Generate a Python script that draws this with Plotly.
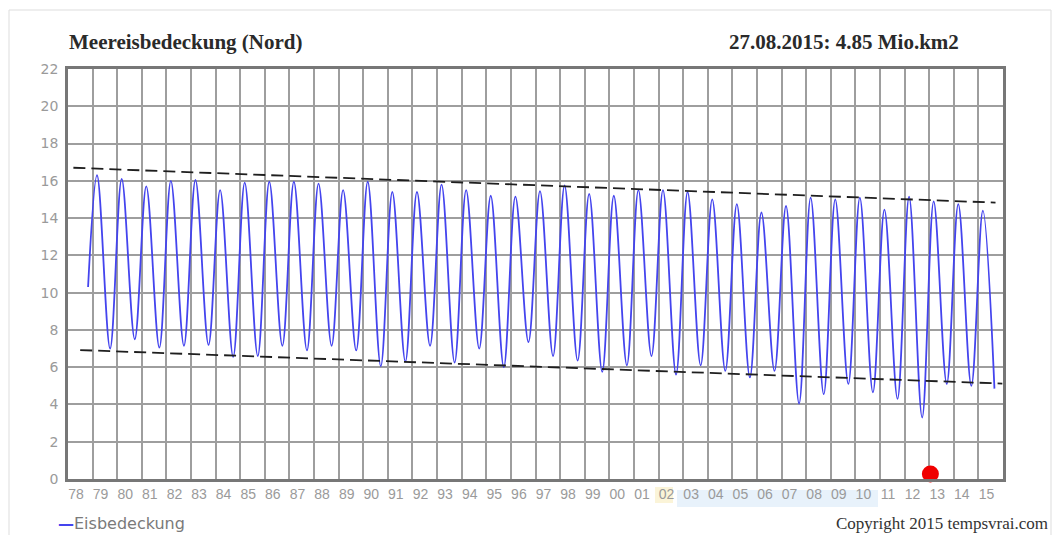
import plotly.graph_objects as go

# ---- data ----
start_date = "1978-10-26"
start_value = 10.3
end_date = "2015-08-27"
end_value = 4.85

max_years = list(range(1979, 2016))
max_values = [16.3, 16.1, 15.7, 16.0, 16.05, 15.5, 15.9, 15.95, 15.95, 15.85,
              15.5, 15.95, 15.4, 15.4, 15.8, 15.5, 15.2, 15.15, 15.45, 15.75,
              15.3, 15.2, 15.5, 15.5, 15.4, 15.0, 14.75, 14.3, 14.65, 15.1,
              15.0, 15.1, 14.45, 15.15, 14.9, 14.75, 14.4]
max_day = "03-08"

min_years = list(range(1979, 2015))
min_values = [7.0, 7.5, 7.05, 7.15, 7.2, 6.55, 6.6, 7.15, 6.9, 7.15,
              6.9, 6.05, 6.3, 7.15, 6.25, 7.0, 6.0, 7.35, 6.6, 6.35,
              5.75, 6.1, 6.6, 5.6, 6.1, 5.8, 5.45, 5.8, 4.05, 4.55,
              5.1, 4.65, 4.3, 3.3, 5.1, 5.0]
min_day = "09-18"

upper_trend_x = ["1978-03-22", "2015-09-12"]
upper_trend_y = [16.7, 14.83]
lower_trend_x = ["1978-07-01", "2015-12-22"]
lower_trend_y = [6.92, 5.12]

marker_x = ["2013-01-18"]
marker_y = [0.27]

tick_years = list(range(1978, 2016))
tick_labels = ["78", "79", "80", "81", "82", "83", "84", "85", "86", "87",
               "88", "89", "90", "91", "92", "93", "94", "95", "96", "97",
               "98", "99", "00", "01", "02", "03", "04", "05", "06", "07",
               "08", "09", "10", "11", "12", "13", "14", "15"]
y_ticks = [0, 2, 4, 6, 8, 10, 12, 14, 16, 18, 20, 22]

# ---- build series ----
maxima = {y: v for y, v in zip(max_years, max_values)}
minima = {y: v for y, v in zip(min_years, min_values)}
xs, ys = [start_date], [start_value]
for y in max_years:
    xs.append(f"{y}-{max_day}")
    ys.append(maxima[y])
    if y in minima:
        xs.append(f"{y}-{min_day}")
        ys.append(minima[y])
xs.append(end_date)
ys.append(end_value)

fig = go.Figure()
fig.add_trace(go.Scatter(x=xs, y=ys, mode="lines", line_shape="spline",
                         line=dict(color="#4444ee", width=1.8),
                         name="Eisbedeckung", showlegend=False))
fig.add_trace(go.Scatter(x=upper_trend_x, y=upper_trend_y, mode="lines",
                         line=dict(color="#1e1e1e", width=1.8, dash="12px,6px"),
                         showlegend=False))
fig.add_trace(go.Scatter(x=lower_trend_x, y=lower_trend_y, mode="lines",
                         line=dict(color="#1e1e1e", width=1.8, dash="12px,6px"),
                         showlegend=False))
fig.add_trace(go.Scatter(x=marker_x, y=marker_y, mode="markers",
                         marker=dict(color="#f00000", size=17), cliponaxis=False,
                         showlegend=False))

L, T, R, B = 68, 69, 1003, 479
W, H = 1053, 535
pw, ph = R - L, B - T


def px_x(p):
    return (p - L) / pw


def px_y(p):
    return (B - p) / ph


fig.update_layout(
    width=W, height=H,
    margin=dict(l=L, r=W - R, t=T, b=H - B),
    paper_bgcolor="white", plot_bgcolor="white",
    xaxis=dict(type="date", range=["1978-01-01", "2016-01-01"],
               tickmode="array",
               tickvals=[f"{y}-01-01" for y in tick_years],
               ticktext=tick_labels, ticks="", ticklabelshift=8,
               showgrid=True, gridcolor="#9e9e9e", gridwidth=1.8,
               showline=True, linecolor="#777777", linewidth=2.5, mirror=True,
               zeroline=False,
               tickfont=dict(family="Liberation Sans, Arial", size=14, color="#9a9a9a")),
    yaxis=dict(range=[0, 22], tickvals=y_ticks, ticks="",
               showgrid=True, gridcolor="#9e9e9e", gridwidth=1.8,
               showline=True, linecolor="#777777", linewidth=2.5, mirror=True,
               zeroline=False, ticklabelstandoff=4,
               tickfont=dict(family="DejaVu Sans", size=14, color="#9a9a9a")),
    showlegend=False,
    shapes=[
        dict(type="rect", xref="paper", yref="paper",
             x0=px_x(9), x1=px_x(1051), y0=px_y(545), y1=px_y(10),
             line=dict(color="#dddddd", width=1), layer="below"),
        dict(type="rect", xref="paper", yref="paper",
             x0=px_x(677), x1=px_x(878), y0=px_y(507), y1=px_y(490),
             fillcolor="rgba(222,236,250,0.7)", line=dict(width=0), layer="below"),
        dict(type="rect", xref="paper", yref="paper",
             x0=px_x(655), x1=px_x(673), y0=px_y(503), y1=px_y(487),
             fillcolor="rgba(250,240,200,0.7)", line=dict(width=0), layer="below"),
    ],
    annotations=[
        dict(text="<b>Meereisbedeckung (Nord)</b>", xref="paper", yref="paper",
             x=px_x(67), y=px_y(42), xanchor="left", yanchor="middle", showarrow=False,
             font=dict(family="Liberation Serif, Times New Roman", size=21, color="#2a2a2a")),
        dict(text="<b>27.08.2015: 4.85 Mio.km2</b>", xref="paper", yref="paper",
             x=px_x(961), y=px_y(42), xanchor="right", yanchor="middle", showarrow=False,
             font=dict(family="Liberation Serif, Times New Roman", size=21, color="#2a2a2a")),
        dict(text="<span style='color:#4444ee'><b>—</b></span>Eisbedeckung",
             xref="paper", yref="paper",
             x=px_x(56), y=px_y(523), xanchor="left", yanchor="middle", showarrow=False,
             font=dict(family="DejaVu Sans", size=16, color="#7a7a7a")),
        dict(text="Copyright 2015 tempsvrai.com", xref="paper", yref="paper",
             x=px_x(1050), y=px_y(523), xanchor="right", yanchor="middle", showarrow=False,
             font=dict(family="Liberation Serif, Times New Roman", size=17, color="#333333")),
    ],
)

fig.write_html("out.html")
